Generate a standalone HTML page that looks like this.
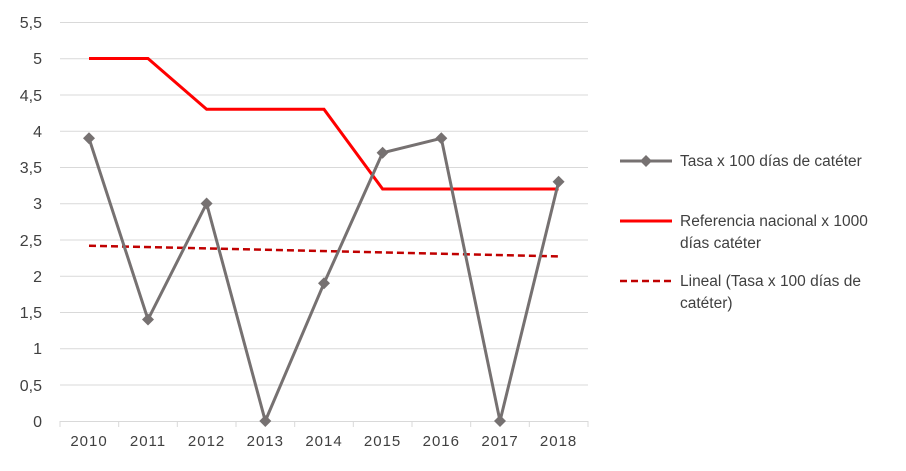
<!DOCTYPE html>
<html><head><meta charset="utf-8"><style>
body{margin:0;background:#fff}
svg text{font-family:"Liberation Sans",sans-serif;fill:#404040}
</style></head><body>
<svg width="906" height="466" xmlns="http://www.w3.org/2000/svg">
<g stroke="#d9d9d9" stroke-width="1">
<line x1="60" x2="588" y1="22.5" y2="22.5"/>
<line x1="60" x2="588" y1="58.7" y2="58.7"/>
<line x1="60" x2="588" y1="95" y2="95"/>
<line x1="60" x2="588" y1="131.2" y2="131.2"/>
<line x1="60" x2="588" y1="167.5" y2="167.5"/>
<line x1="60" x2="588" y1="203.7" y2="203.7"/>
<line x1="60" x2="588" y1="240" y2="240"/>
<line x1="60" x2="588" y1="276.2" y2="276.2"/>
<line x1="60" x2="588" y1="312.5" y2="312.5"/>
<line x1="60" x2="588" y1="348.7" y2="348.7"/>
<line x1="60" x2="588" y1="385" y2="385"/>
<line x1="60" x2="588" y1="421.5" y2="421.5"/>
<line x1="60" x2="60" y1="421" y2="427"/>
<line x1="118.7" x2="118.7" y1="421" y2="427"/>
<line x1="177.3" x2="177.3" y1="421" y2="427"/>
<line x1="236" x2="236" y1="421" y2="427"/>
<line x1="294.7" x2="294.7" y1="421" y2="427"/>
<line x1="353.3" x2="353.3" y1="421" y2="427"/>
<line x1="412" x2="412" y1="421" y2="427"/>
<line x1="470.7" x2="470.7" y1="421" y2="427"/>
<line x1="529.3" x2="529.3" y1="421" y2="427"/>
<line x1="588" x2="588" y1="421" y2="427"/>
</g>
<g font-size="16" text-anchor="end">
<text x="42" y="28">5,5</text><text x="42" y="64">5</text><text x="42" y="101">4,5</text>
<text x="42" y="137">4</text><text x="42" y="173">3,5</text><text x="42" y="209">3</text>
<text x="42" y="246">2,5</text><text x="42" y="282">2</text><text x="42" y="318">1,5</text>
<text x="42" y="354">1</text><text x="42" y="391">0,5</text><text x="42" y="427">0</text>
</g>
<g font-size="15" text-anchor="middle" letter-spacing="1">
<text x="89" y="446">2010</text><text x="148" y="446">2011</text><text x="206.6" y="446">2012</text>
<text x="265.3" y="446">2013</text><text x="324" y="446">2014</text><text x="382.6" y="446">2015</text>
<text x="441.3" y="446">2016</text><text x="500" y="446">2017</text><text x="558.6" y="446">2018</text>
</g>
<polyline fill="none" stroke="#ff0000" stroke-width="3" points="89,58.5 148,58.5 206.6,109.3 265.3,109.3 324,109.3 382.6,189 441.3,189 500,189 558.6,189"/>
<line x1="89" y1="245.7" x2="558.6" y2="256.4" stroke="#c00000" stroke-width="2.5" stroke-dasharray="7,4"/>
<polyline fill="none" stroke="#767171" stroke-width="3" points="89,138.3 148,319.5 206.6,203.5 265.3,421 324,283.3 382.6,152.8 441.3,138.3 500,421 558.6,181.8"/>
<g fill="#767171">
<path d="M89,132.3l6,6l-6,6l-6,-6z"/><path d="M148,313.5l6,6l-6,6l-6,-6z"/>
<path d="M206.6,197.5l6,6l-6,6l-6,-6z"/><path d="M265.3,415l6,6l-6,6l-6,-6z"/>
<path d="M324,277.3l6,6l-6,6l-6,-6z"/><path d="M382.6,146.8l6,6l-6,6l-6,-6z"/>
<path d="M441.3,132.3l6,6l-6,6l-6,-6z"/><path d="M500,415l6,6l-6,6l-6,-6z"/>
<path d="M558.6,175.8l6,6l-6,6l-6,-6z"/>
</g>
<line x1="620" x2="672" y1="161" y2="161" stroke="#767171" stroke-width="3"/>
<path d="M646,155l6,6l-6,6l-6,-6z" fill="#767171"/>
<line x1="620" x2="672" y1="221" y2="221" stroke="#ff0000" stroke-width="3"/>
<line x1="620" x2="672" y1="281" y2="281" stroke="#c00000" stroke-width="2.5" stroke-dasharray="7,4"/>
<g font-size="15.5">
<text x="680" y="166">Tasa x 100 días de catéter</text>
<text x="680" y="226">Referencia nacional x 1000</text>
<text x="680" y="248">días catéter</text>
<text x="680" y="286">Lineal (Tasa x 100 días de</text>
<text x="680" y="308">catéter)</text>
</g>
</svg>
</body></html>
